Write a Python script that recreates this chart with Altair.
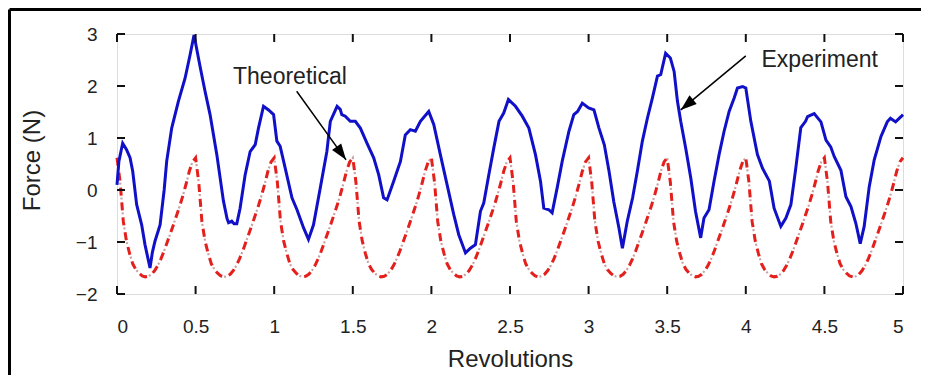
import math
import altair as alt
import pandas as pd

W, H = 786, 260
FONT = "Liberation Sans"

# ---- Experiment (blue solid) : revolutions / force (N)
EXP_REV = [0.0, 0.012, 0.036, 0.06, 0.083, 0.10, 0.125, 0.157, 0.178, 0.21, 0.225, 0.242, 0.274, 0.30,
           0.316, 0.348, 0.39, 0.433, 0.465, 0.49, 0.53, 0.56, 0.592, 0.635, 0.677, 0.70, 0.71, 0.73,
           0.745, 0.762, 0.783, 0.815, 0.847, 0.879, 0.90, 0.932, 0.964, 0.996, 1.017, 1.038, 1.07,
           1.113, 1.145, 1.187, 1.218, 1.25, 1.293, 1.335, 1.357, 1.40, 1.42, 1.43, 1.452, 1.484,
           1.516, 1.548, 1.59, 1.633, 1.665, 1.696, 1.718, 1.76, 1.803, 1.834, 1.866, 1.898, 1.93,
           1.983, 2.015, 2.057, 2.10, 2.142, 2.174, 2.217, 2.248, 2.28, 2.312, 2.333, 2.365, 2.397,
           2.43, 2.46, 2.49, 2.535, 2.578, 2.62, 2.662, 2.694, 2.715, 2.747, 2.768, 2.80, 2.832,
           2.875, 2.906, 2.93, 2.96, 3.0, 3.034, 3.066, 3.10, 3.13, 3.16, 3.193, 3.215, 3.246, 3.28,
           3.31, 3.342, 3.374, 3.406, 3.438, 3.459, 3.49, 3.52, 3.544, 3.565, 3.586, 3.618, 3.65,
           3.68, 3.713, 3.734, 3.766, 3.798, 3.83, 3.862, 3.894, 3.926, 3.947, 3.98, 4.0, 4.032,
           4.074, 4.106, 4.15, 4.18, 4.223, 4.255, 4.287, 4.318, 4.35, 4.38, 4.393, 4.435, 4.478,
           4.51, 4.54, 4.563, 4.605, 4.637, 4.669, 4.70, 4.728, 4.753, 4.785, 4.817, 4.86, 4.90,
           4.92, 4.953, 4.987, 5.0]
EXP_FORCE = [0.1, 0.55, 0.9, 0.78, 0.62, 0.36, -0.28, -0.67, -1.05, -1.5, -1.2, -0.98, -0.67, 0.0,
             0.55, 1.19, 1.7, 2.15, 2.6, 2.98, 2.35, 1.9, 1.45, 0.68, -0.21, -0.55, -0.63, -0.6,
             -0.65, -0.65, -0.35, 0.29, 0.74, 0.87, 1.19, 1.61, 1.54, 1.45, 0.94, 0.84, 0.42,
             -0.15, -0.38, -0.73, -0.95, -0.67, 0.04, 0.74, 1.32, 1.61, 1.55, 1.45, 1.42, 1.32,
             1.32, 1.19, 0.9, 0.62, 0.29, -0.15, -0.19, 0.17, 0.55, 1.06, 1.16, 1.13, 1.32,
             1.51, 1.26, 0.68, 0.1, -0.47, -0.86, -1.21, -1.12, -1.05, -0.41, -0.25, 0.29, 0.81,
             1.32, 1.48, 1.74, 1.61, 1.42, 1.19, 0.68, 0.17, -0.35, -0.38, -0.44, 0.04, 0.55,
             1.13, 1.45, 1.51, 1.67, 1.58, 1.54, 1.19, 0.87, 0.36, -0.22, -0.73, -1.12, -0.6, -0.15,
             0.36, 0.94, 1.38, 1.77, 2.19, 2.22, 2.63, 2.54, 2.28, 1.71, 1.32, 0.8, 0.23,
             -0.41, -0.92, -0.54, -0.38, 0.17, 0.68, 1.13, 1.51, 1.77, 1.96, 1.99, 1.96, 1.32,
             0.68, 0.42, 0.17, -0.35, -0.7, -0.54, -0.28, 0.42, 1.2, 1.32, 1.41, 1.47, 1.31,
             0.96, 0.83, 0.64, 0.38, -0.13, -0.32, -0.64, -1.03, -0.7, 0.06, 0.58, 1.03, 1.31,
             1.38, 1.31, 1.41, 1.45]

# ---- Theoretical (red dash-dot): sampled every 0.02 revolution, one row per half revolution
THEO_ROWS = [
    [0.62, 0.15, -0.60, -0.98, -1.22, -1.42, -1.53, -1.60, -1.65, -1.67, -1.66, -1.62, -1.55,
     -1.45, -1.32, -1.17, -1.00, -0.83, -0.66, -0.48, -0.30, -0.10, 0.12, 0.36, 0.54],
    [0.62, 0.15, -0.60, -0.98, -1.22, -1.42, -1.53, -1.60, -1.65, -1.67, -1.66, -1.62, -1.55,
     -1.45, -1.32, -1.17, -1.00, -0.83, -0.66, -0.48, -0.30, -0.10, 0.12, 0.36, 0.54],
    [0.62, 0.15, -0.60, -0.98, -1.22, -1.42, -1.53, -1.60, -1.65, -1.67, -1.66, -1.62, -1.55,
     -1.45, -1.32, -1.17, -1.00, -0.83, -0.66, -0.48, -0.30, -0.10, 0.12, 0.36, 0.54],
    [0.62, 0.15, -0.60, -0.98, -1.22, -1.42, -1.53, -1.60, -1.65, -1.67, -1.66, -1.62, -1.55,
     -1.45, -1.32, -1.17, -1.00, -0.83, -0.66, -0.48, -0.30, -0.10, 0.12, 0.36, 0.54],
    [0.62, 0.15, -0.60, -0.98, -1.22, -1.42, -1.53, -1.60, -1.65, -1.67, -1.66, -1.62, -1.55,
     -1.45, -1.32, -1.17, -1.00, -0.83, -0.66, -0.48, -0.30, -0.10, 0.12, 0.36, 0.54],
    [0.62, 0.15, -0.60, -0.98, -1.22, -1.42, -1.53, -1.60, -1.65, -1.67, -1.66, -1.62, -1.55,
     -1.45, -1.32, -1.17, -1.00, -0.83, -0.66, -0.48, -0.30, -0.10, 0.12, 0.36, 0.54],
    [0.62, 0.15, -0.60, -0.98, -1.22, -1.42, -1.53, -1.60, -1.65, -1.67, -1.66, -1.62, -1.55,
     -1.45, -1.32, -1.17, -1.00, -0.83, -0.66, -0.48, -0.30, -0.10, 0.12, 0.36, 0.54],
    [0.62, 0.15, -0.60, -0.98, -1.22, -1.42, -1.53, -1.60, -1.65, -1.67, -1.66, -1.62, -1.55,
     -1.45, -1.32, -1.17, -1.00, -0.83, -0.66, -0.48, -0.30, -0.10, 0.12, 0.36, 0.54],
    [0.62, 0.15, -0.60, -0.98, -1.22, -1.42, -1.53, -1.60, -1.65, -1.67, -1.66, -1.62, -1.55,
     -1.45, -1.32, -1.17, -1.00, -0.83, -0.66, -0.48, -0.30, -0.10, 0.12, 0.36, 0.54],
    [0.62, 0.15, -0.60, -0.98, -1.22, -1.42, -1.53, -1.60, -1.65, -1.67, -1.66, -1.62, -1.55,
     -1.45, -1.32, -1.17, -1.00, -0.83, -0.66, -0.48, -0.30, -0.10, 0.12, 0.36, 0.54],
    [0.62],
]
THEO_FORCE = [v for row in THEO_ROWS for v in row]
THEO_REV = [round(i * 0.02, 2) for i in range(len(THEO_FORCE))]

X_TICKS = [0, 0.5, 1, 1.5, 2, 2.5, 3, 3.5, 4, 4.5, 5]
Y_TICKS = [-2, -1, 0, 1, 2, 3]

# annotations: label position, arrow start, arrow tip (data units)
ANN_LABELS = ["Theoretical", "Experiment"]
ANN_TEXT_REV = [1.10, 4.47]
ANN_TEXT_F = [2.17, 2.50]
ANN_START_REV = [1.143, 4.0]
ANN_START_F = [1.90, 2.58]
ANN_TIP_REV = [1.457, 3.586]
ANN_TIP_F = [0.58, 1.54]

BLUE = "#1010c8"
RED = "#e3201c"

xs = alt.Scale(domain=[0, 5], nice=False, zero=False)
ys = alt.Scale(domain=[-2, 3], nice=False, zero=False)

X_AXIS = alt.Axis(values=X_TICKS, format="~g", ticks=False, domain=False, grid=False,
                  labelFontSize=19, labelFont=FONT, labelColor="#222", labelPadding=23,
                  titleFontSize=24, titleFont=FONT, titleColor="#222",
                  titleFontWeight="normal", titleY=72, titleBaseline="alphabetic")
Y_AXIS = alt.Axis(values=Y_TICKS, format="d", ticks=False, domain=False, grid=False,
                  labelFontSize=19, labelFont=FONT, labelColor="#222", labelPadding=20,
                  titleFontSize=24, titleFont=FONT, titleColor="#222",
                  titleFontWeight="normal", titleX=-85, titleY=126,
                  titleAngle=-90, titleBaseline="middle", titleAlign="center")


def X(field):
    return alt.X(field, scale=xs, axis=X_AXIS, title="Revolutions")


def Y(field):
    return alt.Y(field, scale=ys, axis=Y_AXIS, title="Force (N)")


exp_df = pd.DataFrame({"rev": EXP_REV, "force": EXP_FORCE})
theo_df = pd.DataFrame({"rev": THEO_REV, "force": THEO_FORCE})

theo_dots = alt.Chart(theo_df).mark_line(color="#c9a3a3", strokeWidth=2.2,
                                         strokeDash=[2, 13], strokeDashOffset=5).encode(
    x=X("rev:Q"), y=Y("force:Q"))
theo_dash = alt.Chart(theo_df).mark_line(color=RED, strokeWidth=3, strokeDash=[8, 7]).encode(
    x=X("rev:Q"), y=Y("force:Q"))
exp_line = alt.Chart(exp_df).mark_line(color=BLUE, strokeWidth=3).encode(
    x=X("rev:Q"), y=Y("force:Q"))

ann_df = pd.DataFrame({"label": ANN_LABELS, "tr": ANN_TEXT_REV, "tf": ANN_TEXT_F,
                       "sr": ANN_START_REV, "sf": ANN_START_F,
                       "er": ANN_TIP_REV, "ef": ANN_TIP_F})
# arrowhead rotation from the on-screen direction
px_per_rev = W / 5.0
px_per_n = H / 5.0
angs = []
for sr, sf, er, ef in zip(ANN_START_REV, ANN_START_F, ANN_TIP_REV, ANN_TIP_F):
    dx = (er - sr) * px_per_rev
    dy = -(ef - sf) * px_per_n
    angs.append((math.degrees(math.atan2(dx, -dy)) + 360) % 360)
ann_df["ang"] = angs

arrow_lines = alt.Chart(ann_df).mark_rule(color="black", strokeWidth=1.5).encode(
    x=X("sr:Q"), y=Y("sf:Q"), x2="er:Q", y2="ef:Q")
arrow_heads = alt.Chart(ann_df).mark_point(shape="M0,0L0.7,2L-0.7,2Z", filled=True, opacity=1,
                                           size=260, color="black").encode(
    x=X("er:Q"), y=Y("ef:Q"), angle=alt.Angle("ang:Q", scale=None))
ann_text = alt.Chart(ann_df).mark_text(fontSize=23, font=FONT, color="#222").encode(
    x=X("tr:Q"), y=Y("tf:Q"), text="label:N")

xt_df = pd.DataFrame({"rev": X_TICKS})
yt_df = pd.DataFrame({"force": Y_TICKS})
tick_kw = dict(color="#111", strokeWidth=2)
xt_bottom = alt.Chart(xt_df).mark_rule(**tick_kw).encode(x=X("rev:Q"), y=alt.value(H), y2=alt.value(H - 8))
xt_top = alt.Chart(xt_df).mark_rule(**tick_kw).encode(x=X("rev:Q"), y=alt.value(0), y2=alt.value(8))
yt_left = alt.Chart(yt_df).mark_rule(**tick_kw).encode(y=Y("force:Q"), x=alt.value(0), x2=alt.value(8))
yt_right = alt.Chart(yt_df).mark_rule(**tick_kw).encode(y=Y("force:Q"), x=alt.value(W), x2=alt.value(W - 8))

one = pd.DataFrame({"a": [0]})
frame_top = alt.Chart(one).mark_rule(color="black", strokeWidth=3).encode(
    x=alt.value(-107.5), x2=alt.value(W + 18), y=alt.value(-24.5))
frame_left = alt.Chart(one).mark_rule(color="black", strokeWidth=3).encode(
    x=alt.value(-107.5), y=alt.value(-24.5), y2=alt.value(H + 81))

chart = alt.layer(
    theo_dots, theo_dash, exp_line, arrow_lines, arrow_heads, ann_text,
    xt_bottom, xt_top, yt_left, yt_right, frame_top, frame_left
).properties(
    width=W, height=H,
    padding={"left": 109, "top": 26, "right": 18, "bottom": 81},
    autosize=alt.AutoSizeParams(type="none"),
).configure_view(
    stroke="#111", strokeWidth=2
).configure(background="white")

chart.save("out.html", embed_options={"renderer": "svg", "actions": False})
